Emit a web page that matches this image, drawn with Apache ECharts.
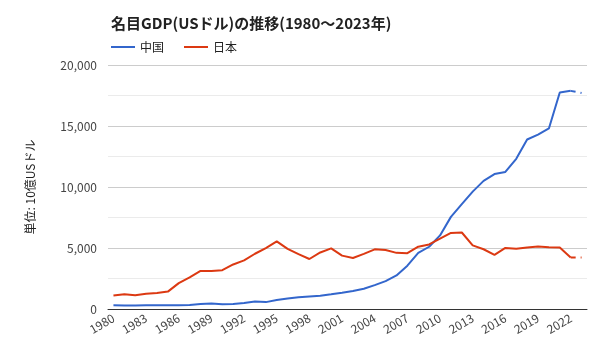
<!DOCTYPE html>
<html><head><meta charset="utf-8">
<script src="https://cdn.jsdelivr.net/npm/echarts@6/dist/echarts.min.js"></script>
<style>html,body{margin:0;padding:0;background:#fff}#c{width:600px;height:360px}</style>
</head><body><div id="c"></div>
<script>
const years = ['1980','1981','1982','1983','1984','1985','1986','1987','1988','1989','1990','1991','1992','1993','1994','1995','1996','1997','1998','1999','2000','2001','2002','2003','2004','2005','2006','2007','2008','2009','2010','2011','2012','2013','2014','2015','2016','2017','2018','2019','2020','2021','2022','2023'];
const china = [303,290,285,305,314,310,301,327,410,460,397,415,494,617,564,734,863,962,1029,1094,1211,1339,1471,1660,1955,2286,2752,3550,4594,5102,6034,7551,8600,9620,10500,11062,11233,12310,13895,14300,14800,17750,17880,17700];
const japan = [1105,1218,1134,1243,1318,1427,2121,2584,3125,3118,3186,3649,3981,4529,4998,5545,4923,4492,4098,4636,4968,4374,4183,4519,4893,4831,4601,4579,5106,5289,5759,6233,6272,5212,4897,4444,5004,4931,5041,5118,5055,5034,4230,4220];
const seriesNames = ['中国','日本'];
const colors = ['#3366cc','#dc3912'];
const FONT = '"Noto Sans CJK JP", "Noto Sans", sans-serif';

const last = years.length - 1;
function solidPart(arr){ return arr.map((v,i)=> i < last ? v : '-'); }
function dashPart(arr){ return arr.map((v,i)=> i >= last-1 ? v : '-'); }

const chart = echarts.init(document.getElementById('c'));
const series = [];
[china, japan].forEach((d, k) => {
  series.push({name: seriesNames[k], type:'line', data: solidPart(d), showSymbol:false, symbol:'none',
    lineStyle:{color:colors[k], width:2}, itemStyle:{color:colors[k]}, animation:false});
  series.push({name: seriesNames[k]+'_est', type:'line', data: dashPart(d), showSymbol:false, symbol:'none',
    lineStyle:{color:colors[k], width:2, type:[5,5]}, itemStyle:{color:colors[k]}, animation:false});
});
chart.setOption({
  animation:false,
  textStyle:{fontFamily:FONT},
  title:{text:'名目GDP(USドル)の推移(1980～2023年)', left:106, top:11,
    textStyle:{fontSize:15, fontWeight:'bold', color:'#222', fontFamily:FONT}},
  legend:{data:seriesNames, left:106, top:36, icon:'rect', itemWidth:24, itemHeight:2, itemGap:20,
    textStyle:{fontSize:12, color:'#222', fontFamily:FONT}},
  grid:{left:108, right:13, top:65, bottom:51, containLabel:false},
  xAxis:{type:'category', data:years, boundaryGap:true,
    axisLine:{lineStyle:{color:'#333', width:1}}, axisTick:{show:false},
    axisLabel:{interval:2, rotate:30, fontSize:12, color:'#444', margin:8, fontFamily:FONT}},
  yAxis:{type:'value', min:0, max:20000, interval:5000,
    name:'単位: 10億USドル', nameLocation:'middle', nameGap:72, nameRotate:90,
    nameTextStyle:{fontSize:12, color:'#222', fontFamily:FONT},
    axisLine:{show:false}, axisTick:{show:false},
    axisLabel:{fontSize:12, color:'#444', margin:11, fontFamily:FONT,
      formatter:v=>v.toLocaleString('en-US')},
    splitLine:{lineStyle:{color:'#cccccc'}},
    minorTick:{show:false, splitNumber:2},
    minorSplitLine:{show:true, lineStyle:{color:'#ebebeb'}}},
  series: series
});
</script></body></html>
